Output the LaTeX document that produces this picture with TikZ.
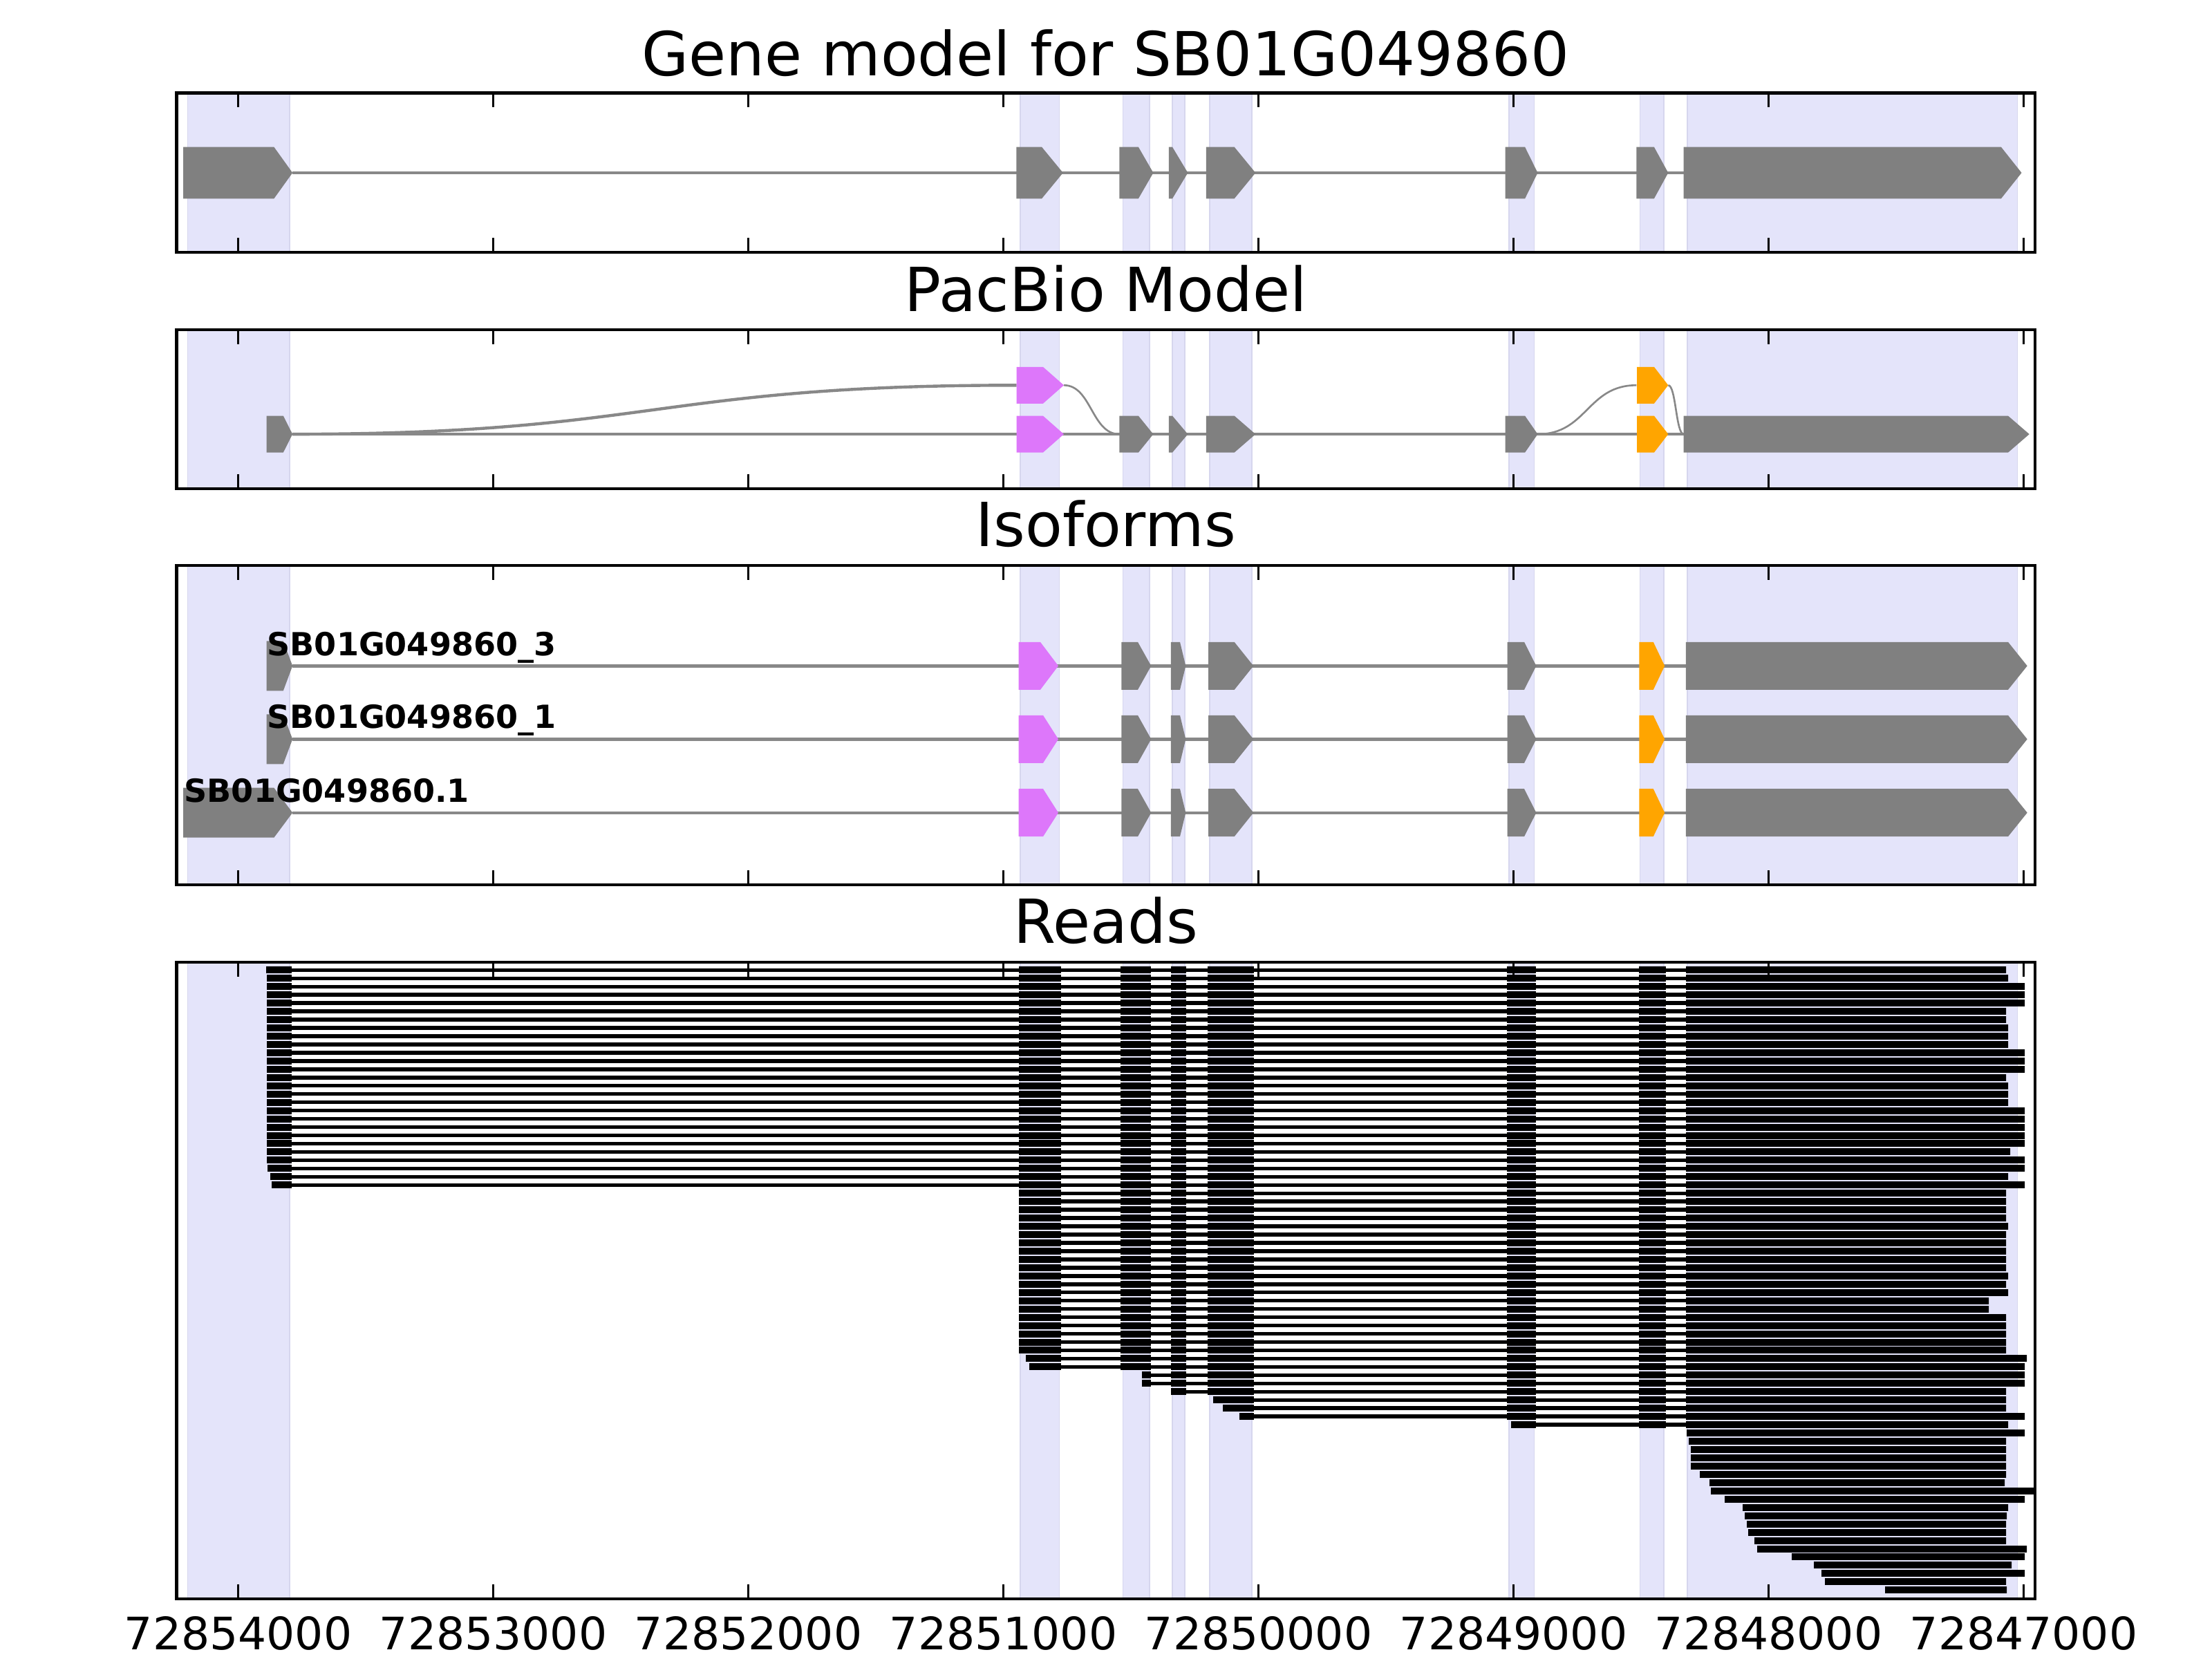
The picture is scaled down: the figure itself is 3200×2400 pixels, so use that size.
\documentclass[tikz,border=0pt]{standalone}
\usepackage{fontspec}
\setmainfont{DejaVu Sans}
\usepackage{xcolor}
\usepackage{tikz}
\definecolor{bandfill}{RGB}{228,228,250}
\definecolor{bandedge}{RGB}{214,214,238}
\definecolor{exongray}{RGB}{128,128,128}
\definecolor{introngray}{RGB}{136,136,136}
\definecolor{altpink}{RGB}{221,119,250}
\definecolor{altorange}{RGB}{255,165,0}
\tikzstyle{band} = [fill=bandfill, draw=bandedge, line width=0.5pt]
\tikzstyle{axesbox} = [draw=black, line width=1.2pt]
\tikzstyle{tickmark} = [draw=black, line width=0.7pt]
\tikzstyle{intron} = [draw=introngray, line width=1.25pt]
\tikzstyle{splice} = [draw=introngray, line width=0.75pt]
\tikzstyle{readline} = [draw=black, line width=1.55pt]
\tikzstyle{paneltitle} = [font=\fontsize{25}{30}\selectfont, anchor=base, inner sep=0pt]
\tikzstyle{ticklabel} = [font=\fontsize{18.4}{22}\selectfont, anchor=base, inner sep=0pt]
\tikzstyle{isolabel} = [font=\fontsize{13.1}{15}\selectfont\bfseries, anchor=base west, inner sep=0pt]
\newcommand{\exonshape}[6]{\fill[#6] (#1,#4-#5) -- (#2,#4-#5) -- (#3,#4) -- (#2,#4+#5) -- (#1,#4+#5) -- cycle;}

\begin{document}
\begin{tikzpicture}[x=0.01cm, y=-0.01cm]
\useasboundingbox (0,0) rectangle (3200,2400);

\foreach \pa/\pb in {134.4/365.2, 477/707, 818.3/1280, 1391.7/2313.3}
  \foreach \ba/\bb in {271.4/418.8, 1476/1532.5, 1624.5/1663.3, 1696/1714.3, 1750/1811.2, 2182.7/2219.4, 2372.4/2407.1, 2440.8/2918.4}
    \draw[band] (\ba,\pa) rectangle (\bb,\pb);

% gene model
\draw[intron] (423.2,250) -- (2435.7,250);
\foreach \a/\b/\c in {265.2/396.4/423.2, 1470.4/1507.1/1537.8, 1619.4/1646.9/1668.4, 1690.8/1696/1718.4, 1744.9/1785.7/1816.3, 2177.6/2206.1/2224.5, 2367.3/2392.9/2413.3, 2435.7/2894.9/2924.5}
  {\exonshape{\a}{\b}{\c}{250}{37.3}{exongray}}

% pacbio model
\draw[intron] (423.2,628.1) -- (2435.7,628.1);
\draw[intron] (423.2,628.1) .. controls (946.8,628.1) and (946.8,557.3) .. (1470.5,557.3);
\draw[splice] (1539,557.3) .. controls (1579,557.3) and (1579,628.1) .. (1619.4,628.1);
\draw[splice] (2224.5,628.1) .. controls (2296,628.1) and (2296,557.3) .. (2367.3,557.3);
\draw[splice] (2413.3,557.3) .. controls (2424.5,557.3) and (2424.5,628.1) .. (2435.7,628.1);
\foreach \a/\b/\c in {385.7/409.8/423.2, 1619.4/1646.9/1668.4, 1690.8/1696/1718.4, 1744.9/1785.7/1816.3, 2177.6/2206.1/2224.5, 2435.7/2905/2935.7}
  {\exonshape{\a}{\b}{\c}{628.1}{26.5}{exongray}}
\foreach \yy in {557.3, 628.1} {
  \exonshape{1470.5}{1508.9}{1539}{\yy}{26.5}{altpink}
  \exonshape{2368}{2392.9}{2413.3}{\yy}{26.5}{altorange}
}

% isoforms
\foreach \yy/\fs/\fb/\pe in {963.3/385.7/409.8/1505, 1069.3/385.7/409.8/1509, 1175.7/265.2/396.4/1509} {
  \draw[intron] (423.2,\yy) -- (2438.8,\yy);
  \exonshape{\fs}{\fb}{423.2}{\yy}{36}{exongray}
  \exonshape{1473.5}{\pe}{1531}{\yy}{34.5}{altpink}
  \foreach \a/\b/\c in {1622.4/1646/1665.3, 1693.9/1707/1715.3, 1748/1785.7/1813.3, 2180.6/2205/2222.4, 2438.8/2905/2932.7}
    {\exonshape{\a}{\b}{\c}{\yy}{34.5}{exongray}}
  \exonshape{2371.4}{2391.8}{2408.2}{\yy}{34.5}{altorange}
}
\node[isolabel] (iso3) at (386,948.3) {SB01G049860\_3};
\node[isolabel] (iso1) at (386,1053.3) {SB01G049860\_1};
\node[isolabel] (isoref) at (266,1160) {SB01G049860.1};

% reads
\foreach \n/\s/\e in {1/385/2902, 2/386/2905, 3/386/2929, 4/386/2929, 5/386/2929, 6/386/2902, 7/386/2902, 8/386/2905, 9/386/2905, 10/386/2905, 11/386/2929, 12/386/2929, 13/386/2929, 14/386/2902, 15/386/2905, 16/386/2905, 17/386/2905, 18/386/2929, 19/386/2929, 20/386/2929, 21/386/2929, 22/386/2929, 23/386/2908, 24/386/2929, 25/387/2929, 26/391/2905, 27/393/2929,
  28/1474/2902, 29/1474/2902, 30/1474/2902, 31/1474/2902, 32/1474/2905, 33/1474/2902, 34/1474/2902, 35/1474/2902, 36/1474/2902, 37/1474/2902, 38/1474/2905, 39/1474/2902, 40/1474/2905, 41/1474/2877, 42/1474/2877, 43/1474/2902, 44/1474/2902, 45/1474/2902, 46/1474/2902, 47/1474/2902, 48/1484/2932, 49/1489/2929,
  50/1652/2929, 51/1652/2929, 52/1694/2902, 53/1755/2902, 54/1769/2902, 55/1793/2929, 56/2186/2905,
  57/2440/2929, 58/2443/2902, 59/2446/2902, 60/2446/2902, 61/2446/2902, 62/2459/2902, 63/2473/2900, 64/2475/2943, 65/2495/2929, 66/2521/2905, 67/2524/2903, 68/2527/2902, 69/2529/2902, 70/2538/2902, 71/2542/2932, 72/2592/2929, 73/2624/2910, 74/2635/2929, 75/2640/2902, 76/2727/2903} {
  \pgfmathsetmacro{\yy}{1403.3+(\n-1)*11.96}
  \draw[readline] (\s,\yy) -- (\e,\yy);
  \begin{scope}
    \clip (\s,\yy-7) rectangle (\e,\yy+7);
    \foreach \ba/\bb in {380/422.3, 1474/1535, 1621.4/1665.3, 1693.9/1716.3, 1747/1814.3, 2179.6/2222.4, 2371.4/2410.2, 2438.8/2960}
      \fill (\ba,\yy-5) rectangle (\bb,\yy+5);
  \end{scope}
}

\foreach \pa/\pb in {134.4/365.2, 477/707, 818.3/1280, 1391.7/2313.3} {
  \foreach \t in {344.6,713.6,1082.6,1451.6,1820.6,2189.6,2558.6,2927.6} {
    \draw[tickmark] (\t,\pa) -- (\t,\pa+21);
    \draw[tickmark] (\t,\pb) -- (\t,\pb-21);
  }
  \draw[axesbox] (255.4,\pa) rectangle (2944,\pb);
}

\node[paneltitle] (title1) at (1599.7,109.3) {Gene model for SB01G049860};
\node[paneltitle] (title2) at (1599.7,450) {PacBio Model};
\node[paneltitle] (title3) at (1599.7,790.7) {Isoforms};
\node[paneltitle] (title4) at (1599.7,1364) {Reads};
\foreach \k/\lab in {0/72854000, 1/72853000, 2/72852000, 3/72851000, 4/72850000, 5/72849000, 6/72848000, 7/72847000}
  \node[ticklabel] (tick\k) at (344.6+369*\k,2386.7) {\lab};
\end{tikzpicture}
\end{document}
